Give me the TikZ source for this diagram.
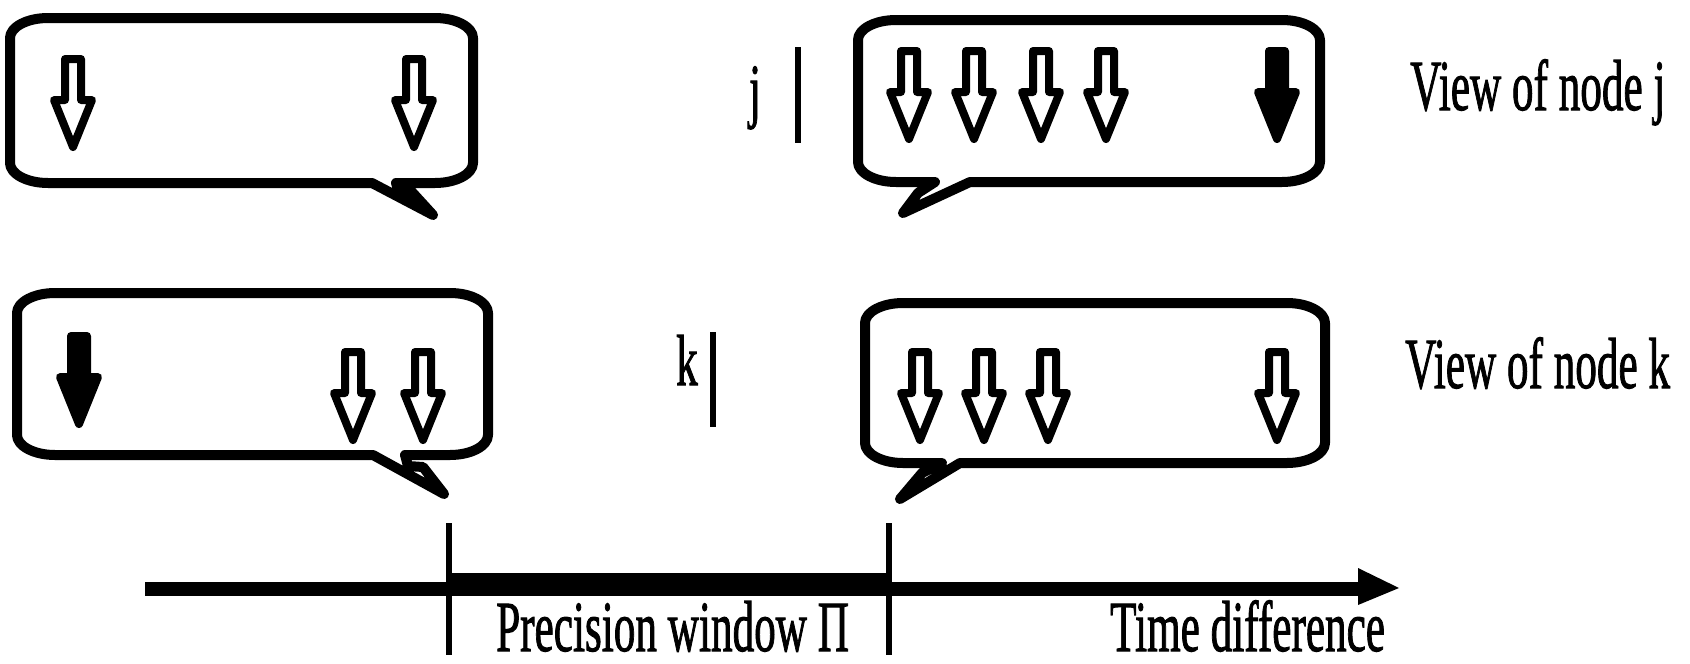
\documentclass[tikz,border=0pt]{standalone}
\usepackage{fontspec}
\setmainfont{Liberation Serif}
\newfontfamily\labelfont{Liberation Serif}[FakeBold=1.6]
\usepackage{graphicx}
% narrow, tall lettering
\newcommand\squeeze[1]{\scalebox{0.6}[1]{#1}}
% speech bubble: left, top, right, bottom, tail points inserted in the bottom edge (right to left)
\newcommand\speechbubble[5]{%
  \draw[bubble] (#1,#2+20) .. controls (#1,#2+9) and (#1+17,#2) .. (#1+38,#2)
    -- (#3-38,#2) .. controls (#3-17,#2) and (#3,#2+9) .. (#3,#2+20)
    -- (#3,#4-20) .. controls (#3,#4-9) and (#3-17,#4) .. (#3-38,#4)
    -- #5 -- (#1+38,#4) .. controls (#1+17,#4) and (#1,#4-9) .. (#1,#4-20) -- cycle;}
\begin{document}
\begin{tikzpicture}[x=1pt,y=-1pt,
  bubble/.style={draw=black,line width=10pt,line join=round,fill=white},
  arrowline/.style={draw=black,line width=8pt,line join=round},
  lbl/.style={inner sep=0pt,text depth=0pt,font=\labelfont\fontsize{72}{80}\selectfont},
  bar/.style={draw=black,line width=6pt},
  axisline/.style={draw=black,line width=14pt},
  windowline/.style={draw=black,line width=23pt},
  openarr/.pic={\path[arrowline,fill=white] (-8,4) -- (8,4) -- (8,45) -- (19,45) -- (0,92) -- (-19,45) -- (-8,45) -- cycle;},
  fullarr/.pic={\path[arrowline,fill=black] (-8,4) -- (8,4) -- (8,45) -- (19,45) -- (0,92) -- (-19,45) -- (-8,45) -- cycle;}]
\useasboundingbox (0,0) rectangle (1690,664);

% views of the two nodes
\speechbubble{10}{18}{473}{183}{(396,183) -- (399,192) -- (412,192) -- (433,215) -- (372,183)}
\speechbubble{858}{20}{1320}{182}{(970,182) -- (903,213) -- (918,193) -- (935,182)}
\speechbubble{17}{293}{488}{455}{(405,455) -- (408,466) -- (423,467) -- (444,494) -- (373,455)}
\speechbubble{865}{303}{1325}{463}{(960,463) -- (900,499) -- (922,473) -- (942,463)}

% clock readings seen by node j
\pic at (73,55) {openarr};
\pic at (414,55) {openarr};
\pic at (909,47) {openarr};
\pic at (974,47) {openarr};
\pic at (1041,47) {openarr};
\pic at (1106,47) {openarr};
\pic at (1277,47) {fullarr};
% clock readings seen by node k
\pic at (79,332) {fullarr};
\pic at (353,348) {openarr};
\pic at (423,348) {openarr};
\pic at (920,348) {openarr};
\pic at (984,348) {openarr};
\pic at (1048,348) {openarr};
\pic at (1277,348) {openarr};

% own clock of each node
\node[lbl,anchor=base] (jlab) at (755,114) {\squeeze{j}};
\coordinate (jtop) at (798,47);
\coordinate (jbot) at (798,143);
\draw[bar] (jtop) -- (jbot);
\node[lbl,anchor=base] (klab) at (687,385) {\squeeze{k}};
\coordinate (ktop) at (713,332);
\coordinate (kbot) at (713,427);
\draw[bar] (ktop) -- (kbot);

\node[lbl,anchor=base west] (viewj) at (1410,110) {\squeeze{View of node j}};
\node[lbl,anchor=base west] (viewk) at (1405,388) {\squeeze{View of node k}};

% time difference axis with the precision window
\coordinate (axL) at (145,589);
\coordinate (w1) at (449,589);
\coordinate (w2) at (889,589);
\coordinate (axR) at (1362,589);
\coordinate (w1u) at (449,584.5);
\coordinate (w2u) at (889,584.5);
\draw[axisline] (axL) -- (w1);
\draw[windowline] (w1u) -- (w2u);
\draw[axisline] (w2) -- (axR);
\fill[black] (1358,568) -- (1399,588) -- (1358,605) -- cycle;
\coordinate (t1a) at (449,523);
\coordinate (t1b) at (449,655);
\coordinate (t2a) at (889,523);
\coordinate (t2b) at (889,655);
\draw[bar] (t1a) -- (t1b);
\draw[bar] (t2a) -- (t2b);

\node[lbl,anchor=base west] (prec) at (496,651) {\squeeze{Precision window Π}};
\node[lbl,anchor=base west] (tdiff) at (1110,651) {\squeeze{Time difference}};
\end{tikzpicture}
\end{document}
